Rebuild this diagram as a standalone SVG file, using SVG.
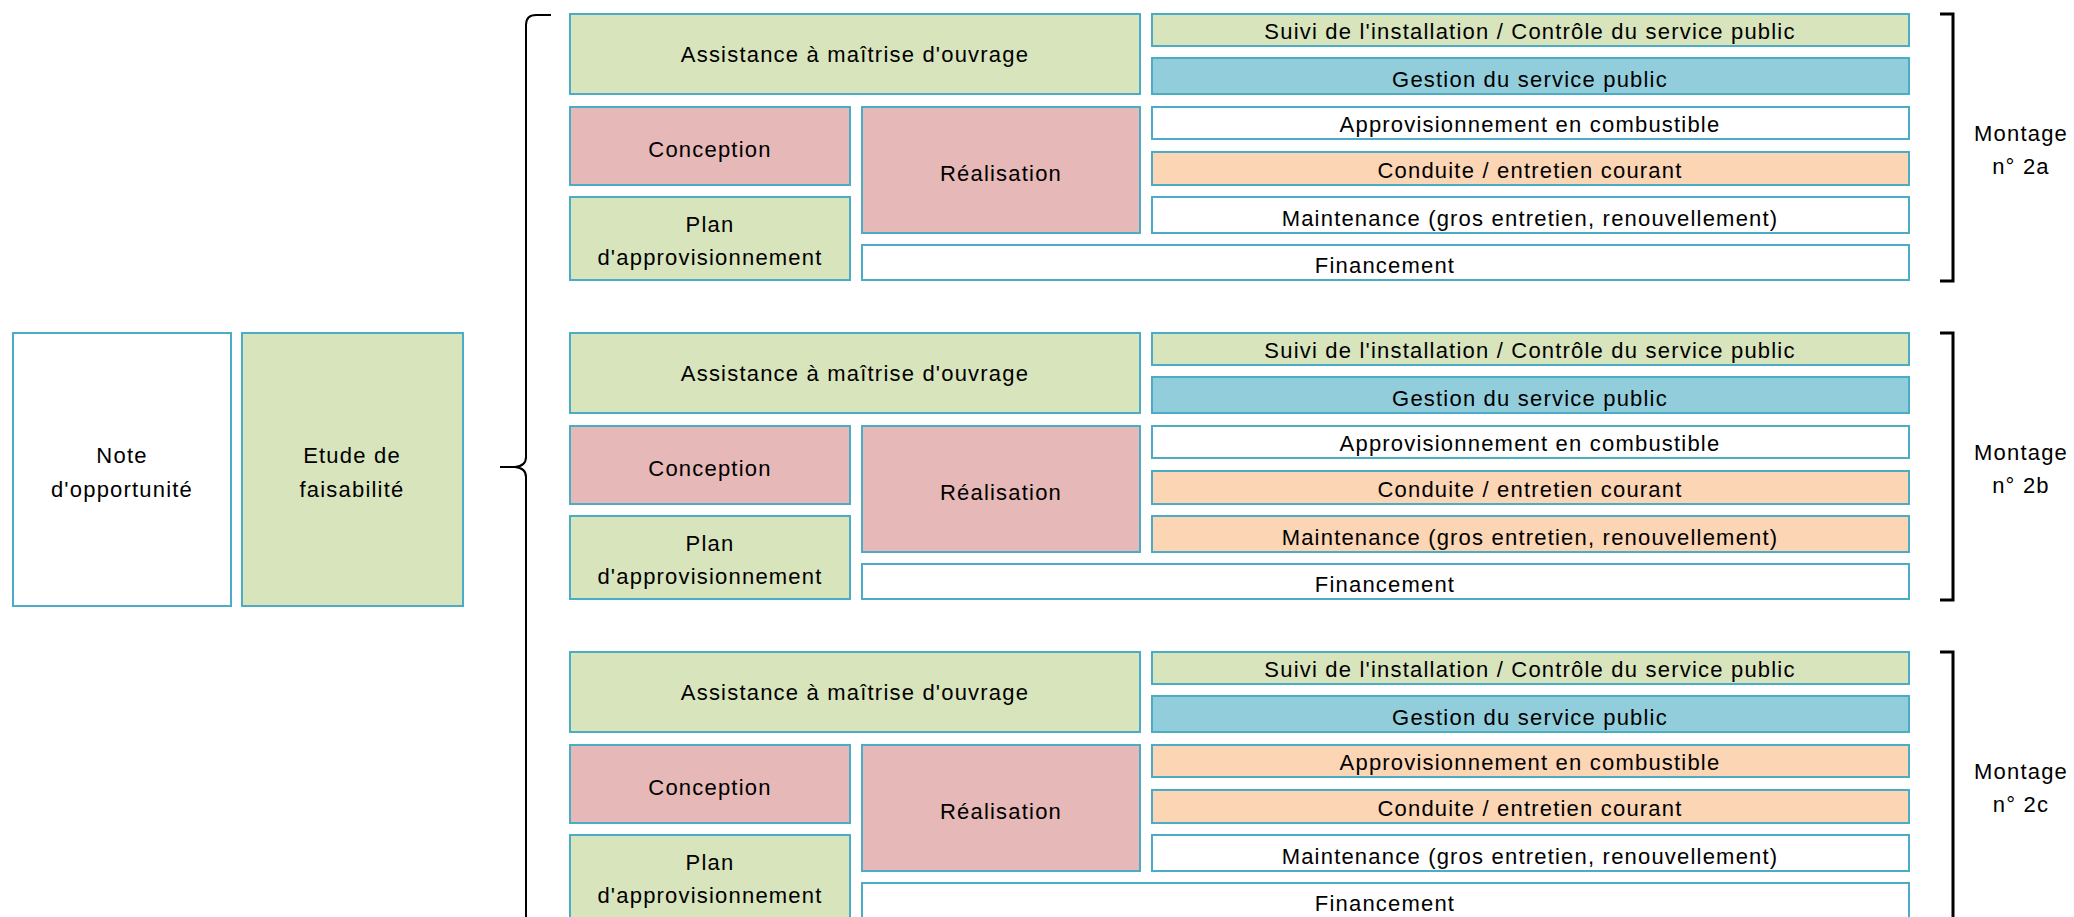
<svg xmlns="http://www.w3.org/2000/svg" width="2074" height="917" viewBox="0 0 2074 917">
<style>
rect{stroke:#4BACC6;stroke-width:2}
.g{fill:#D8E4BC}.p{fill:#E6B8B7}.b{fill:#92CDDC}.o{fill:#FCD5B4}.w{fill:#FFFFFF}
text{font-family:"Liberation Sans",Arial,sans-serif;font-size:22px;letter-spacing:1.2px;fill:#000;text-anchor:middle}
.br{fill:none;stroke:#000;stroke-width:3}
.brace{fill:none;stroke:#000;stroke-width:2}
</style>
<rect width="2074" height="917" fill="#fff" style="stroke:none"/>
<g id="note"><rect class="w" x="13" y="333" width="218" height="273"/><text x="122" y="463">Note</text><text x="122" y="497">d'opportunité</text></g>
<g id="etude"><rect class="g" x="242" y="333" width="221" height="273"/><text x="352" y="463">Etude de</text><text x="352" y="497">faisabilité</text></g>
<g id="connectors">
<path class="brace" d="M551,15 H536 Q526,15 526,25 V457 Q526,466 515,467 L500,467 M515,467 Q526,468 526,477 V922"/>
<path class="br" d="M1940,14 H1953 V281 H1940"/>
<path class="br" d="M1940,333 H1953 V600 H1940"/>
<path class="br" d="M1940,652 H1953 V919 H1940"/>
</g>
<g id="montage-2a">
<g id="amo-a"><rect class="g" x="570" y="14" width="570" height="80"/><text x="855" y="62">Assistance à maîtrise d'ouvrage</text></g>
<g id="suivi-a"><rect class="g" x="1152" y="14" width="757" height="32"/><text x="1530" y="39">Suivi de l'installation / Contrôle du service public</text></g>
<g id="gestion-a"><rect class="b" x="1152" y="58" width="757" height="36"/><text x="1530" y="87">Gestion du service public</text></g>
<g id="conception-a"><rect class="p" x="570" y="107" width="280" height="78"/><text x="710" y="157">Conception</text></g>
<g id="realisation-a"><rect class="p" x="862" y="107" width="278" height="126"/><text x="1001" y="181">Réalisation</text></g>
<g id="appro-a"><rect class="w" x="1152" y="107" width="757" height="32"/><text x="1530" y="132">Approvisionnement en combustible</text></g>
<g id="conduite-a"><rect class="o" x="1152" y="152" width="757" height="33"/><text x="1530" y="178">Conduite / entretien courant</text></g>
<g id="plan-a"><rect class="g" x="570" y="197" width="280" height="83"/><text x="710" y="232">Plan</text><text x="710" y="265">d'approvisionnement</text></g>
<g id="maint-a"><rect class="w" x="1152" y="197" width="757" height="36"/><text x="1530" y="226">Maintenance (gros entretien, renouvellement)</text></g>
<g id="fin-a"><rect class="w" x="862" y="245" width="1047" height="35"/><text x="1385" y="273">Financement</text></g>
<g id="label-a"><text x="2021" y="141">Montage</text><text x="2021" y="174">n° 2a</text></g>
</g>
<g id="montage-2b" transform="translate(0,319)">
<g id="amo-b"><rect class="g" x="570" y="14" width="570" height="80"/><text x="855" y="62">Assistance à maîtrise d'ouvrage</text></g>
<g id="suivi-b"><rect class="g" x="1152" y="14" width="757" height="32"/><text x="1530" y="39">Suivi de l'installation / Contrôle du service public</text></g>
<g id="gestion-b"><rect class="b" x="1152" y="58" width="757" height="36"/><text x="1530" y="87">Gestion du service public</text></g>
<g id="conception-b"><rect class="p" x="570" y="107" width="280" height="78"/><text x="710" y="157">Conception</text></g>
<g id="realisation-b"><rect class="p" x="862" y="107" width="278" height="126"/><text x="1001" y="181">Réalisation</text></g>
<g id="appro-b"><rect class="w" x="1152" y="107" width="757" height="32"/><text x="1530" y="132">Approvisionnement en combustible</text></g>
<g id="conduite-b"><rect class="o" x="1152" y="152" width="757" height="33"/><text x="1530" y="178">Conduite / entretien courant</text></g>
<g id="plan-b"><rect class="g" x="570" y="197" width="280" height="83"/><text x="710" y="232">Plan</text><text x="710" y="265">d'approvisionnement</text></g>
<g id="maint-b"><rect class="o" x="1152" y="197" width="757" height="36"/><text x="1530" y="226">Maintenance (gros entretien, renouvellement)</text></g>
<g id="fin-b"><rect class="w" x="862" y="245" width="1047" height="35"/><text x="1385" y="273">Financement</text></g>
<g id="label-b"><text x="2021" y="141">Montage</text><text x="2021" y="174">n° 2b</text></g>
</g>
<g id="montage-2c" transform="translate(0,638)">
<g id="amo-c"><rect class="g" x="570" y="14" width="570" height="80"/><text x="855" y="62">Assistance à maîtrise d'ouvrage</text></g>
<g id="suivi-c"><rect class="g" x="1152" y="14" width="757" height="32"/><text x="1530" y="39">Suivi de l'installation / Contrôle du service public</text></g>
<g id="gestion-c"><rect class="b" x="1152" y="58" width="757" height="36"/><text x="1530" y="87">Gestion du service public</text></g>
<g id="conception-c"><rect class="p" x="570" y="107" width="280" height="78"/><text x="710" y="157">Conception</text></g>
<g id="realisation-c"><rect class="p" x="862" y="107" width="278" height="126"/><text x="1001" y="181">Réalisation</text></g>
<g id="appro-c"><rect class="o" x="1152" y="107" width="757" height="32"/><text x="1530" y="132">Approvisionnement en combustible</text></g>
<g id="conduite-c"><rect class="o" x="1152" y="152" width="757" height="33"/><text x="1530" y="178">Conduite / entretien courant</text></g>
<g id="plan-c"><rect class="g" x="570" y="197" width="280" height="83"/><text x="710" y="232">Plan</text><text x="710" y="265">d'approvisionnement</text></g>
<g id="maint-c"><rect class="w" x="1152" y="197" width="757" height="36"/><text x="1530" y="226">Maintenance (gros entretien, renouvellement)</text></g>
<g id="fin-c"><rect class="w" x="862" y="245" width="1047" height="35"/><text x="1385" y="273">Financement</text></g>
<g id="label-c"><text x="2021" y="141">Montage</text><text x="2021" y="174">n° 2c</text></g>
</g>
</svg>
